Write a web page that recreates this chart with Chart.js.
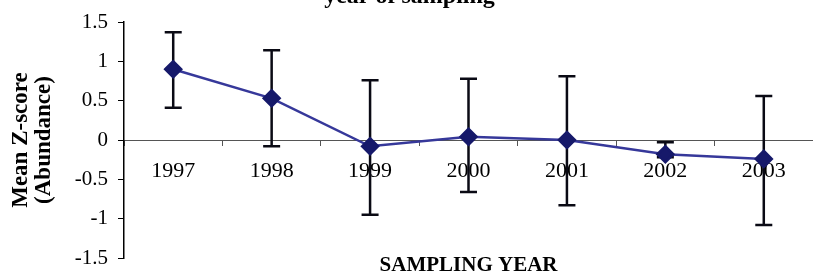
<!DOCTYPE html>
<html>
<head>
<meta charset="utf-8">
<script src="https://cdn.jsdelivr.net/npm/chart.js@4"></script>
<style>
  html, body { margin: 0; padding: 0; background: #fff; }
  #wrap { width: 813px; height: 275px; }
</style>
</head>
<body>
<div id="wrap"><canvas id="chart"></canvas></div>
<script>
const years = ["1997", "1998", "1999", "2000", "2001", "2002", "2003"];
const meanZ = [0.90, 0.53, -0.08, 0.04, 0.00, -0.18, -0.24];
const errHigh = [1.37, 1.14, 0.76, 0.78, 0.81, -0.03, 0.56];
const errLow = [0.41, -0.08, -0.95, -0.66, -0.83, -0.22, -1.08];
const yTicks = [-1.5, -1, -0.5, 0, 0.5, 1, 1.5];
const yTickLabels = ["-1.5", "-1", "-0.5", "0", "0.5", "1", "1.5"];

const serif = "'Liberation Serif', 'Times New Roman', serif";

// whiskers drawn before the line so the diamonds sit on top
const errorBars = {
  id: "errorBars",
  beforeDatasetsDraw(chart) {
    const { ctx, scales: { x, y } } = chart;
    ctx.save();
    ctx.strokeStyle = "#0a0a14";
    ctx.lineWidth = 2.5;
    years.forEach((yr, i) => {
      const px = x.getPixelForValue(i);
      const top = y.getPixelForValue(errHigh[i]);
      const bot = y.getPixelForValue(errLow[i]);
      ctx.beginPath();
      ctx.moveTo(px, top);
      ctx.lineTo(px, bot);
      ctx.moveTo(px - 8.5, top);
      ctx.lineTo(px + 8.5, top);
      ctx.moveTo(px - 8.5, bot);
      ctx.lineTo(px + 8.5, bot);
      ctx.stroke();
    });
    ctx.restore();
  }
};

new Chart(document.getElementById("chart"), {
  type: "line",
  data: {
    labels: years,
    datasets: [{
      data: meanZ,
      borderColor: "#36389a",
      borderWidth: 2.5,
      pointStyle: "rectRot",
      pointRadius: 8,
      pointBackgroundColor: "#16196a",
      pointBorderColor: "#16196a",
      tension: 0,
      clip: false
    }]
  },
  plugins: [errorBars],
  options: {
    responsive: true,
    maintainAspectRatio: false,
    animation: false,
    layout: { autoPadding: false, padding: { left: 0, right: -6, top: 0, bottom: 0 } },
    plugins: {
      legend: { display: false },
      tooltip: { enabled: false },
      title: {
        display: true,
        text: "year of sampling",
        color: "#000",
        font: { family: serif, size: 24, weight: "bold", lineHeight: 0.1 },
        padding: { top: -4, bottom: 23.6 }
      },
      subtitle: {
        display: true,
        position: "bottom",
        fullSize: false,
        text: "SAMPLING YEAR",
        color: "#000",
        font: { family: serif, size: 21, weight: "bold", lineHeight: 0.7 },
        padding: { top: 0, bottom: 2.3 }
      }
    },
    scales: {
      x: {
        position: { y: 0 },
        offset: true,
        grid: { drawOnChartArea: false, offset: true, tickLength: 5, color: "#555" },
        border: { color: "#555", width: 1 },
        ticks: { color: "#000", padding: 13, font: { family: serif, size: 22 } }
      },
      y: {
        min: -1.5,
        max: 1.5,
        afterBuildTicks: s => { s.ticks = yTicks.map(v => ({ value: v })); },
        afterFit: s => {
          s.width = 124;
          s.paddingTop = 0;
          s.paddingBottom = 0;
        },
        grid: { drawOnChartArea: false, tickLength: 6, color: "#000" },
        border: { color: "#000", width: 1.5 },
        ticks: {
          color: "#000",
          padding: 10,
          font: { family: serif, size: 21 },
          callback: (v, i) => yTickLabels[i]
        },
        title: {
          display: true,
          text: ["Mean Z-score", "(Abundance)"],
          color: "#000",
          font: { family: serif, size: 23, weight: "bold", lineHeight: 1.0 },
          padding: { top: 10, bottom: 0 }
        }
      }
    }
  }
});
</script>
</body>
</html>
